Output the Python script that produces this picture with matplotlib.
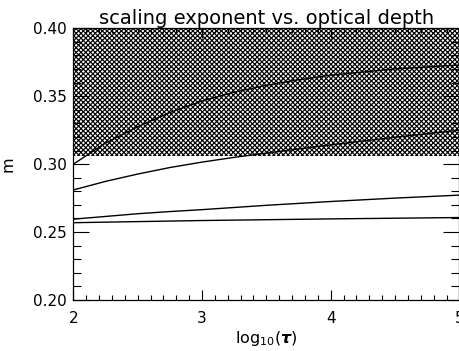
import numpy as np
import matplotlib
matplotlib.use('Agg')
import matplotlib.pyplot as plt
from matplotlib.ticker import MultipleLocator

plt.rcParams['font.family'] = ['DejaVu Sans']
plt.rcParams['hatch.linewidth'] = 0.85
plt.rcParams['hatch.color'] = 'black'
plt.rcParams['mathtext.fontset'] = 'dejavusans'

# log10(tau) sample points and the four m curves
log_tau = [2.0, 2.25, 2.5, 2.75, 3.0, 3.25, 3.5, 3.75, 4.0, 4.5, 5.0]
m_curve1 = [0.3000, 0.3155, 0.3275, 0.3380, 0.3465, 0.3530, 0.3580, 0.3621, 0.3655, 0.3701, 0.3730]
m_curve2 = [0.2810, 0.2873, 0.2927, 0.2975, 0.3015, 0.3050, 0.3081, 0.3112, 0.3142, 0.3198, 0.3250]
m_curve3 = [0.2595, 0.2615, 0.2635, 0.2651, 0.2665, 0.2681, 0.2697, 0.2711, 0.2725, 0.2750, 0.2772]
m_curve4 = [0.2569, 0.2573, 0.2577, 0.2581, 0.2585, 0.2588, 0.2591, 0.2594, 0.2597, 0.2602, 0.2607]

# excluded region
shade_lo = 0.306
shade_hi = 0.40

fig = plt.figure(figsize=(4.6, 3.51), dpi=100)
ax = fig.add_axes([0.1594, 0.1453, 0.8393, 0.7741])

ax.fill_between([2, 5], shade_lo, shade_hi, facecolor='white', edgecolor='black',
                hatch='xxxxxxx', linewidth=0)

for m in [m_curve1, m_curve2, m_curve3, m_curve4]:
    ax.plot(log_tau, m, color='black', lw=1.0)

ax.set_xlim(2, 5)
ax.set_ylim(0.2, 0.4)
ax.xaxis.set_major_locator(MultipleLocator(1))
ax.xaxis.set_minor_locator(MultipleLocator(0.1))
ax.yaxis.set_major_locator(MultipleLocator(0.05))
ax.yaxis.set_minor_locator(MultipleLocator(0.01))
ax.yaxis.set_major_formatter(matplotlib.ticker.FormatStrFormatter('%.2f'))

ax.tick_params(which='both', direction='in', top=True, right=True, labelsize=11)
ax.tick_params(axis='x', which='major', length=7.2, width=0.8, pad=8)
ax.tick_params(axis='x', which='minor', length=3.6, width=0.8)
ax.tick_params(axis='y', which='major', length=11.5, width=0.8, pad=4.5)
ax.tick_params(axis='y', which='minor', length=5.8, width=0.8)
for sp in ax.spines.values():
    sp.set_linewidth(0.9)

ax.set_title('scaling exponent vs. optical depth', fontsize=14, pad=3)
ax.set_xlabel(r'log$_{10}$($\boldsymbol{\tau}$)', fontsize=11.5, labelpad=2)
ax.set_ylabel('m', fontsize=11.5)
ax.yaxis.set_label_coords(-0.15, 0.5)

fig.savefig('out.png', dpi=100)
